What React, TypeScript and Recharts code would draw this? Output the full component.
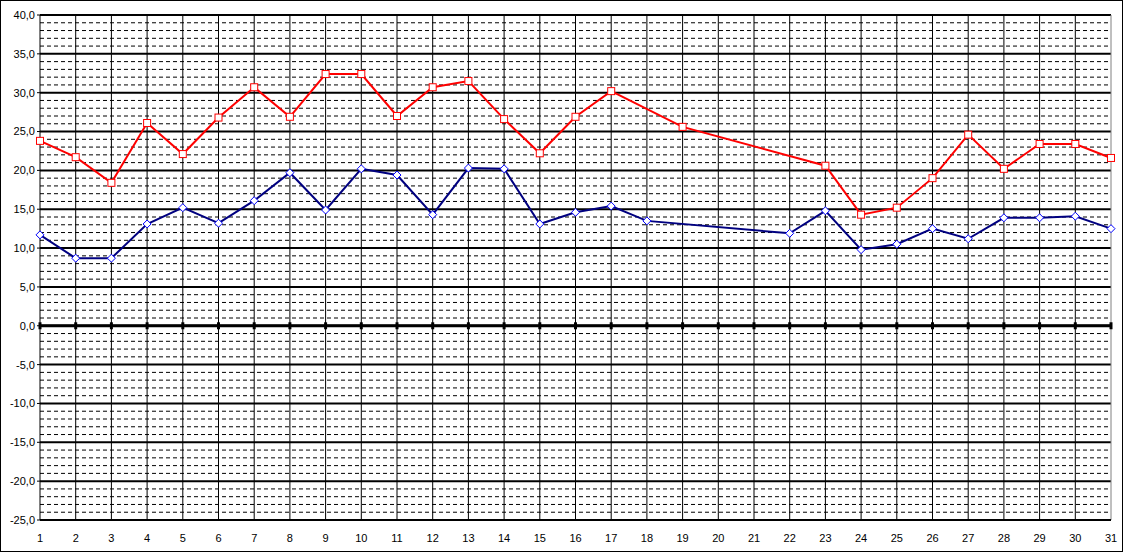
import React from 'react';
import { CartesianGrid, Line, LineChart, ReferenceLine, XAxis, YAxis } from 'recharts';

// Day numbers along the x axis
const days = [
  1, 2, 3, 4, 5, 6, 7, 8, 9, 10, 11, 12, 13, 14, 15, 16,
  17, 18, 19, 20, 21, 22, 23, 24, 25, 26, 27, 28, 29, 30, 31,
];

// Upper (red) series, null where no reading
const redValues = [
  23.8, 21.7, 18.4, 26.1, 22.1, 26.8, 30.7, 26.9, 32.4, 32.4, 27.0, 30.7, 31.5, 26.6, 22.2, 26.9,
  30.2, null, 25.6, null, null, null, 20.6, 14.3, 15.2, 19.0, 24.6, 20.2, 23.4, 23.4, 21.6,
];

// Lower (blue) series
const blueValues = [
  11.7, 8.7, 8.7, 13.1, 15.2, 13.2, 16.1, 19.7, 14.9, 20.2, 19.4, 14.3, 20.3, 20.2, 13.1, 14.6,
  15.4, 13.5, null, null, null, 11.9, 14.8, 9.8, 10.5, 12.5, 11.2, 13.9, 13.9, 14.1, 12.5,
];

const yTicks = [-25, -20, -15, -10, -5, 0, 5, 10, 15, 20, 25, 30, 35, 40];
const minorY = Array.from({ length: 66 }, (_, i) => i - 25).filter((v) => v % 5 !== 0);

const data = days.map((d, i) => ({ day: d, red: redValues[i], blue: blueValues[i] }));

const font = { fontFamily: 'Arial, "Liberation Sans", sans-serif', fontSize: 11, fill: '#000' };

const SquareDot = (props: any) => {
  const { cx, cy, value } = props;
  if (cx == null || cy == null || value == null) return null;
  return <rect x={cx - 3.5} y={cy - 3.5} width={7} height={7} fill="#fff" stroke="#FF0000" strokeWidth={1} />;
};

const DiamondDot = (props: any) => {
  const { cx, cy, value } = props;
  if (cx == null || cy == null || value == null) return null;
  return (
    <polygon
      points={`${cx},${cy - 4} ${cx + 4},${cy} ${cx},${cy + 4} ${cx - 4},${cy}`}
      fill="#fff"
      stroke="#0000FF"
      strokeWidth={1}
    />
  );
};

const App: React.FC = () => {
  return (
    <div
      style={{
        position: 'absolute',
        left: 0,
        top: 0,
        width: 1123,
        height: 552,
        border: '1px solid #000',
        boxSizing: 'border-box',
        background: '#fff',
      }}
    >
      <LineChart width={1121} height={550} data={data} margin={{ top: 14, right: 11, left: 0, bottom: 0 }}>
        <CartesianGrid
          horizontalValues={minorY}
          vertical={false}
          stroke="#000"
          strokeDasharray="4 3"
          strokeWidth={1}
        />
        <CartesianGrid horizontalValues={yTicks} vertical={false} stroke="#000" strokeWidth={2} />
        <CartesianGrid horizontal={false} verticalValues={days.slice(1, 30)} stroke="#000" strokeWidth={1} />
        <XAxis
          dataKey="day"
          type="number"
          domain={[1, 31]}
          ticks={days}
          interval={0}
          height={31}
          tickLine={false}
          axisLine={{ stroke: '#000', strokeWidth: 2 }}
          tick={font}
          dy={6}
        />
        <YAxis
          domain={[-25, 40]}
          ticks={yTicks}
          interval={0}
          width={39}
          tickSize={3}
          tickLine={{ stroke: '#000' }}
          axisLine={{ stroke: '#000', strokeWidth: 1 }}
          tick={font}
          tickFormatter={(v: number) => v.toFixed(1).replace('.', ',')}
        />
        <ReferenceLine x={31} stroke="#808080" strokeWidth={1} />
        <ReferenceLine y={0} stroke="#000" strokeWidth={3} />
        {days.map((d) => (
          <ReferenceLine
            key={d}
            segment={[
              { x: d, y: -0.45 },
              { x: d, y: 0.45 },
            ]}
            stroke="#000"
            strokeWidth={3}
          />
        ))}
        <Line
          dataKey="blue"
          stroke="#000080"
          strokeWidth={2}
          connectNulls
          dot={<DiamondDot />}
          activeDot={false}
          isAnimationActive={false}
        />
        <Line
          dataKey="red"
          stroke="#FF0000"
          strokeWidth={2}
          connectNulls
          dot={<SquareDot />}
          activeDot={false}
          isAnimationActive={false}
        />
      </LineChart>
    </div>
  );
};

export default App;
